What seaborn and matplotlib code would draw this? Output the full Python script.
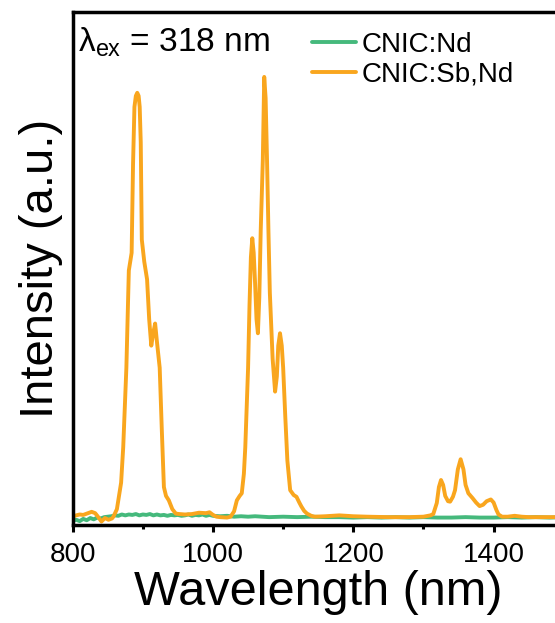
import pandas as pd
import seaborn as sns
import matplotlib.pyplot as plt

# spectra (wavelength in nm, intensity normalised)
nd_wl = [800, 805, 810, 815, 820, 825, 830, 835, 840, 845, 850, 855, 860, 865, 870, 875,
         880, 885, 890, 895, 900, 905, 910, 915, 920, 925, 930, 935, 940, 945, 950, 955,
         960, 965, 970, 975, 980, 985, 990, 995, 1000, 1010, 1020, 1030, 1040, 1050, 1060,
         1080, 1100, 1120, 1140, 1160, 1180, 1200, 1220, 1240, 1260, 1280, 1300, 1320,
         1340, 1360, 1380, 1400, 1420, 1440, 1460, 1480, 1500]
nd_int = [-0.006, -0.004, -0.007, -0.002, -0.005, 0.000, -0.003, 0.001, -0.001, 0.002,
          0.003, 0.004, 0.006, 0.005, 0.008, 0.006, 0.008, 0.007, 0.009, 0.006, 0.008,
          0.007, 0.009, 0.006, 0.008, 0.006, 0.007, 0.005, 0.007, 0.006, 0.007, 0.005,
          0.006, 0.008, 0.005, 0.007, 0.006, 0.008, 0.005, 0.007, 0.005, 0.004, 0.005,
          0.003, 0.004, 0.003, 0.004, 0.002, 0.003, 0.002, 0.003, 0.002, 0.002, 0.001,
          0.002, 0.001, 0.002, 0.001, 0.002, 0.001, 0.001, 0.002, 0.001, 0.001, 0.002,
          0.001, 0.002, 0.001, 0.002]

sbnd_wl = [800, 805, 810, 815, 820, 827, 832, 836, 841, 846, 851, 856, 858, 863, 866, 869,
           872, 874, 876.5, 880, 884, 886, 888, 890, 892, 894, 895.5, 897, 898.5, 902, 906,
           909, 912, 915, 917.5, 920, 924, 927, 930, 933, 937, 942, 947, 952, 960, 970,
           980, 990, 995, 1000, 1005, 1010, 1020, 1025, 1030, 1034, 1038, 1041, 1044, 1046,
           1048, 1050, 1052, 1054, 1056, 1058, 1060, 1062, 1064, 1066, 1068, 1071, 1073,
           1075, 1077, 1079, 1081, 1085, 1088.5, 1091, 1093, 1095.5, 1098, 1100, 1103, 1106,
           1110, 1115, 1119, 1123, 1126, 1130, 1134, 1140, 1145, 1160, 1180, 1200, 1220,
           1250, 1280, 1300, 1310, 1314, 1319, 1322, 1325, 1328, 1331, 1335, 1338, 1342,
           1345, 1349, 1353, 1357, 1360, 1364, 1370, 1375, 1380, 1385, 1390, 1396, 1400,
           1404, 1407, 1412, 1420, 1430, 1440, 1450, 1470, 1500]
sbnd_int = [0.003, 0.006, 0.008, 0.007, 0.010, 0.014, 0.011, 0.003, -0.008, 0.000, -0.004,
            -0.001, 0.003, 0.020, 0.050, 0.080, 0.160, 0.240, 0.340, 0.560, 0.600, 0.800,
            0.930, 0.955, 0.962, 0.955, 0.930, 0.850, 0.630, 0.580, 0.540, 0.450, 0.390,
            0.420, 0.440, 0.400, 0.340, 0.200, 0.070, 0.050, 0.040, 0.020, 0.010, 0.009,
            0.008, 0.009, 0.012, 0.011, 0.013, 0.007, 0.003, 0.002, 0.001, 0.003, 0.015,
            0.040, 0.050, 0.056, 0.100, 0.160, 0.250, 0.340, 0.480, 0.590, 0.633, 0.600,
            0.530, 0.450, 0.418, 0.500, 0.650, 0.810, 0.998, 0.950, 0.810, 0.650, 0.510,
            0.360, 0.286, 0.320, 0.390, 0.418, 0.390, 0.340, 0.230, 0.130, 0.063, 0.052,
            0.048, 0.035, 0.026, 0.016, 0.010, 0.005, 0.003, 0.004, 0.006, 0.004, 0.003,
            0.002, 0.002, 0.003, 0.006, 0.009, 0.034, 0.070, 0.086, 0.075, 0.050, 0.038,
            0.037, 0.048, 0.063, 0.110, 0.133, 0.110, 0.075, 0.056, 0.045, 0.035, 0.027,
            0.030, 0.038, 0.042, 0.035, 0.018, 0.008, 0.003, 0.003, 0.005, 0.003, 0.002,
            0.002, 0.002]

samples = ['CNIC:Nd', 'CNIC:Sb,Nd']
colors = {'CNIC:Nd': '#45B97C', 'CNIC:Sb,Nd': '#F9A61E'}

df = pd.concat([
    pd.DataFrame({'Wavelength': nd_wl, 'Intensity': nd_int, 'Sample': samples[0]}),
    pd.DataFrame({'Wavelength': sbnd_wl, 'Intensity': sbnd_int, 'Sample': samples[1]}),
])

sns.set_style('ticks')
plt.rcParams['font.family'] = ['Liberation Sans', 'DejaVu Sans']
plt.rcParams['mathtext.fontset'] = 'custom'
plt.rcParams['mathtext.rm'] = 'Liberation Sans'
plt.rcParams['text.color'] = 'black'
plt.rcParams['axes.labelcolor'] = 'black'
plt.rcParams['xtick.color'] = 'black'

fig = plt.figure(figsize=(5.55, 6.23), dpi=100)
ax = fig.add_axes([0.131, 0.1573, 0.8848, 0.8234])

sns.lineplot(data=df, x='Wavelength', y='Intensity', hue='Sample', hue_order=samples,
             palette=colors, linewidth=2.8, estimator=None, ax=ax)

ax.set_xlim(800, 1500)
ax.set_ylim(-0.0158, 1.1448)
ax.set_xticks([800, 1000, 1200, 1400])
ax.set_xticks([900, 1100, 1300, 1500], minor=True)
ax.set_yticks([])

for s in ax.spines.values():
    s.set_linewidth(2.5)
    s.set_color('black')

ax.tick_params(axis='x', which='major', direction='out', length=5, width=2.2,
               labelsize=20, pad=7, colors='black')
ax.tick_params(axis='x', which='minor', direction='out', length=3, width=2.2)

ax.set_xlabel('Wavelength (nm)', fontsize=35, labelpad=2)
ax.set_ylabel('Intensity (a.u.)', fontsize=34, labelpad=7)

ax.legend(loc='upper left', bbox_to_anchor=(0.5622, 0.9487), bbox_transform=fig.transFigure,
          frameon=False, fontsize=20, handlelength=1.6, handletextpad=0.2,
          labelspacing=0.12, borderpad=0, borderaxespad=0)

fig.text(0.1405, 0.9165, r'$\mathregular{\lambda_{ex}}$ = 318 nm', fontsize=24, va='baseline')

fig.savefig('out.png', dpi=100)
